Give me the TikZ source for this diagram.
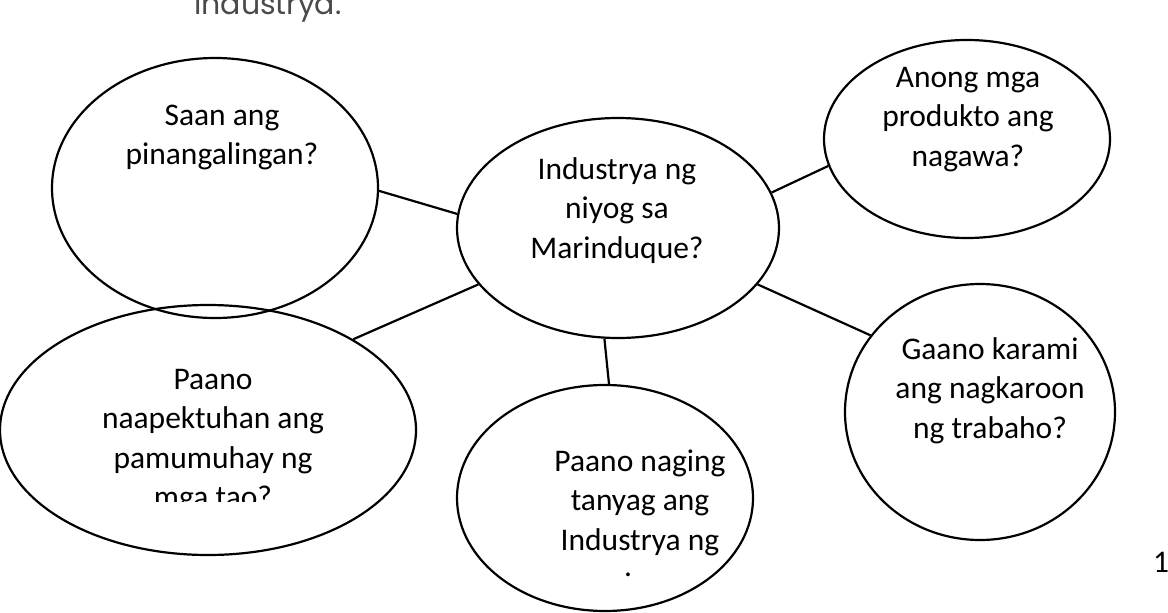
\documentclass[tikz,border=0pt]{standalone}
\usepackage{fontspec}
\setmainfont{Carlito}
\newfontfamily\headfont{Poppins}
\usetikzlibrary{shapes.geometric}
\definecolor{capGrey}{HTML}{4A4A4A}
\tikzset{
  bubble/.style = {ellipse, draw=black, line width=2.2pt, inner sep=0pt},
  link/.style   = {black, line width=2.2pt},
  qtext/.style  = {align=center, inner sep=0pt, anchor=base,
                   font=\fontsize{31.5}{39.5}\selectfont},
}

\begin{document}
\begin{tikzpicture}[x=1pt,y=-1pt]
  \useasboundingbox (0,0) rectangle (1168,613);
  % question bubbles
  \foreach \name/\x/\y/\w/\h in {src/215/188/326/260, ctr/618/228/322/220,
      prod/967/139/286/198, job/980/412/270/256, life/208/430/416/250,
      fame/605/498/296/226} {
    \node[bubble, minimum width=\w pt, minimum height=\h pt] (\name) at (\x,\y) {};
  }
  % spokes from the centre
  \draw[link] (src.-1) -- (ctr.175);
  \draw[link] (ctr.13) -- (prod.191);
  \draw[link] (ctr.-22) -- (job.145);
  \draw[link] (ctr.202) -- (life.32);
  \draw[link] (ctr.263) -- (fame.88);
  % texts (base = last line)
  \node[qtext] (srcq) at (222,164.5) {Saan ang\\pinangalingan?};
  \node[qtext] (ctrq) at (617,258) {Industrya ng\\niyog sa\\Marinduque?};
  \node[qtext] (prodq) at (968,166) {Anong mga\\produkto ang\\nagawa?};
  \node[qtext] (jobq) at (990,438) {Gaano karami\\ang nagkaroon\\ng trabaho?};
  \begin{scope}
    \clip (0,300) rectangle (440,501);
    \node[qtext] (lifeq) at (213,507.5) {Paano\\naapektuhan ang\\pamumuhay ng\\mga tao?};
  \end{scope}
  \node[qtext] (fameq) at (640,576) {Paano naging\\tanyag ang\\Industrya ng\\[-13.5pt]\hspace*{-24pt}.};
  \node[anchor=base west, inner sep=0pt, text=capGrey,
        font=\headfont\fontsize{30}{36}\selectfont] (head) at (194,15) {industrya.};
  \node[qtext] (pgno) at (1161,572) {1};
\end{tikzpicture}
\end{document}
